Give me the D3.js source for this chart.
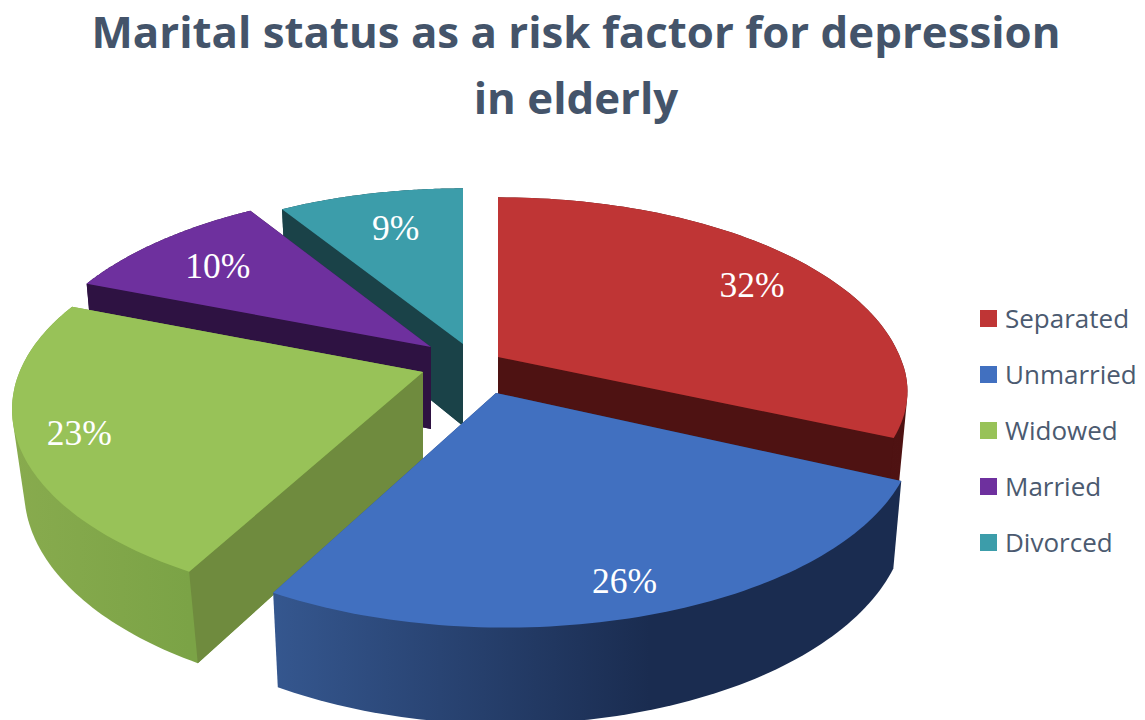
<!DOCTYPE html>
<html><head><meta charset="utf-8">
<script src="https://cdnjs.cloudflare.com/ajax/libs/d3/7.8.5/d3.min.js"></script>
<style>html,body{margin:0;padding:0;background:#fff;overflow:hidden}</style>
</head><body><svg id="c" width="1145" height="720"></svg>
<script>
const categories = ["Separated","Unmarried","Widowed","Married","Divorced"];
const values = [32,26,23,10,9];
const titleLines = ["Marital status as a risk factor for depression","in elderly"];
const topColors = ["#bf3535","#4170c0","#98c258","#6e309e","#3c9daa"];
const wallColors = ["#4e1212","#1a2c50","#6f8b3e","#2e1242","#1a4248"];
const rimStops = [["#5c1616","#4e1212"],["#35578f","#1a2c50"],["#88ab4e","#7ba346"],["#2e1242","#2e1242"],["#1a4248","#1a4248"]];
const explode = [[0,0],[-2,36],[-75,15],[-67,-10],[-35,-13]];
const rimShift = [[0,0],[9.5,0],[-1.5,0],[5,2],[0,0]];
const bottomShift = [[0,0],[0,0],[4,-3],[0,0],[0,0]];
const apexExtra = [0,0,6,0,0];
const radial = [1,1,1,1,0.975];
const nearY = [0.92,1,1,1,1];
const labelFrac = [0.8,0.87,0.86,0.77,0.74];
const labelNudge = [[3,3],[-8,1],[2,2],[1,3],[4,0]];
const drawOrder = [4,3,0,2,1];

const cx=498, cy=357, R=402, Ry=190, k=0.19, D=82, shrink=0.98;
const svg=d3.select("#c");
const defs=svg.append("defs");
const color=d3.scaleOrdinal(categories,topColors);
const wall=d3.scaleOrdinal(categories,wallColors);
const pie=d3.pie().sort(null).value(d=>d.v)(categories.map((c,i)=>({c,v:values[i],i})));
const line=d3.line().x(d=>d[0]).y(d=>d[1]);

// perspective projection of a pie-plane point; h=0 top face, h=1 bottom face
function proj(a,r,i,h){
  const u=Math.sin(a)*r, v=Math.cos(a)*r, s=1/(1+k*v);
  const f=(h?shrink:1)*radial[i], ny=v<0?nearY[i]:1;
  const bx=h?bottomShift[i][0]*r:0, by=h?bottomShift[i][1]*r+apexExtra[i]*(1-r):0;
  return [cx+explode[i][0]+rimShift[i][0]*r+u*R*s*f+bx,
          cy+explode[i][1]+rimShift[i][1]*r-v*Ry*s*f*ny+(h?D*s:0)+by];
}
function arcPts(p,h){
  const n=80, t=d3.scaleLinear([0,n],[p.startAngle,p.endAngle]);
  return d3.range(n+1).map(j=>proj(t(j),1,p.data.i,h));
}
const g=svg.append("g");
drawOrder.forEach(i=>{
  const p=pie[i], c=p.data.c;
  const top=arcPts(p,0), bot=arcPts(p,1);
  const ap=proj(0,0,i,0), apB=proj(0,0,i,1);
  const topPoly=[ap].concat(top);
  const grad=defs.append("linearGradient").attr("id","rim"+i).attr("gradientUnits","userSpaceOnUse")
    .attr("x1",i==1?272:d3.min(top,d=>d[0])).attr("x2",i==1?650:d3.max(top,d=>d[0])).attr("y1",0).attr("y2",0);
  grad.append("stop").attr("offset",0).attr("stop-color",rimStops[i][0]);
  grad.append("stop").attr("offset",1).attr("stop-color",rimStops[i][1]);
  // silhouette of the whole wedge (outer rim colour)
  const hull=d3.polygonHull(top.concat(bot,[ap,apB]));
  g.append("path").attr("d",line(hull)+"Z").attr("fill",`url(#rim${i})`);
  // cut walls: only those facing the viewer
  [0,80].forEach(e=>{
    const mid=[(ap[0]+top[e][0])/2,(ap[1]+top[e][1])/2+6];
    if(!d3.polygonContains(topPoly,mid))
      g.append("path").attr("d",line([ap,top[e],bot[e],apB])+"Z").attr("fill",wall(c));
  });
  // top face
  g.append("path").attr("d",line(topPoly)+"Z").attr("fill",color(c));
});
// data labels
pie.forEach((p,i)=>{
  const pt=proj((p.startAngle+p.endAngle)/2,labelFrac[i],i,0);
  svg.append("text").attr("x",pt[0]+labelNudge[i][0]).attr("y",pt[1]+labelNudge[i][1]).attr("text-anchor","middle").attr("dominant-baseline","central")
    .attr("font-family","'Liberation Serif',serif").attr("font-size",35.5).attr("fill","#fff").text(p.data.v+"%");
});
// title
svg.selectAll(".t").data(titleLines).enter().append("text")
  .attr("x",576).attr("y",(d,i)=>48+i*66).attr("text-anchor","middle")
  .attr("font-family","'Open Sans',sans-serif").attr("font-weight",700).attr("font-size",43.8).attr("fill","#44546a").text(d=>d);
// legend
const ly=d3.scalePoint(categories,[318.5,542.5]);
const lg=svg.selectAll(".l").data(categories).enter().append("g").attr("transform",d=>`translate(980,${ly(d)})`);
lg.append("rect").attr("x",0).attr("y",-8.5).attr("width",17).attr("height",17).attr("fill",d=>color(d));
lg.append("text").attr("x",25).attr("y",-1).attr("dominant-baseline","central")
  .attr("font-family","'Open Sans',sans-serif").attr("font-size",26).attr("fill","#4b5a70").text(d=>d);
</script></body></html>
